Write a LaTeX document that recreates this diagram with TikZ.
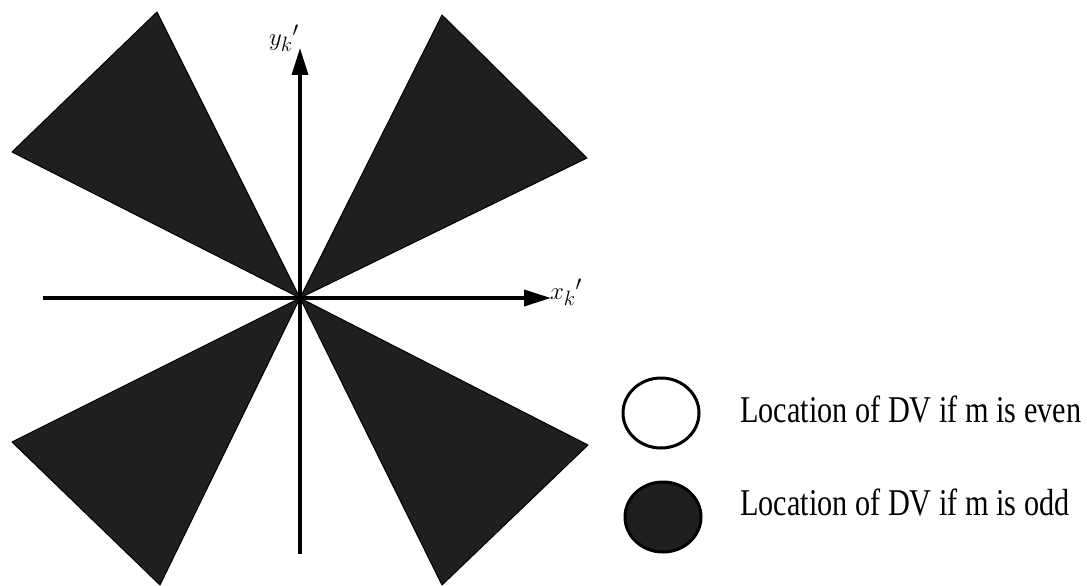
\documentclass[tikz,border=0pt]{standalone}
\usepackage{fontspec}
\setmainfont{Liberation Serif}
\usetikzlibrary{arrows.meta,shapes.geometric}
\begin{document}
\begin{tikzpicture}[x=1pt,y=-1pt,
  wedge/.style={fill=black!88, draw=black, line width=1pt, line join=round},
  axis/.style={line width=3.5pt, -{Triangle[length=27pt,width=16pt]}},
  axlabel/.style={inner sep=0pt, font=\fontsize{28}{30}\selectfont},
  legmark/.style={ellipse, draw=black, line width=3pt, minimum width=76pt, minimum height=70pt, inner sep=0pt},
  legtext/.style={anchor=base west, inner sep=0pt, font=\fontsize{37.8}{40}\selectfont}]
\useasboundingbox (0,0) rectangle (1087,586);
\coordinate (O) at (300,298);
% wedges
\fill[wedge] (O) -- (12,152) -- (157,12) -- cycle;
\fill[wedge] (O) -- (442,15) -- (587,158) -- cycle;
\fill[wedge] (O) -- (12,442) -- (160,585) -- cycle;
\fill[wedge] (O) -- (588,445) -- (442,585) -- cycle;
% axes
\coordinate (xl) at (43,298);
\coordinate (xr) at (551,298);
\coordinate (yb) at (300,554);
\coordinate (yt) at (300,48);
\draw[axis] (xl) -- (xr);
\draw[axis] (yb) -- (yt);
\node[axlabel] (ylab) at (284,38) {$y_k{}'$};
\node[axlabel] (xlab) at (566,292) {$x_k{}'$};
% legend
\node[legmark] (even) at (661,413) {};
\node[legmark, fill=black!88] (odd) at (663,517) {};
\node[legtext] (teven) at (740,422) {\scalebox{0.8}[1]{Location of DV if m is even}};
\node[legtext] (todd) at (740,515) {\scalebox{0.8}[1]{Location of DV if m is odd}};
\end{tikzpicture}
\end{document}
